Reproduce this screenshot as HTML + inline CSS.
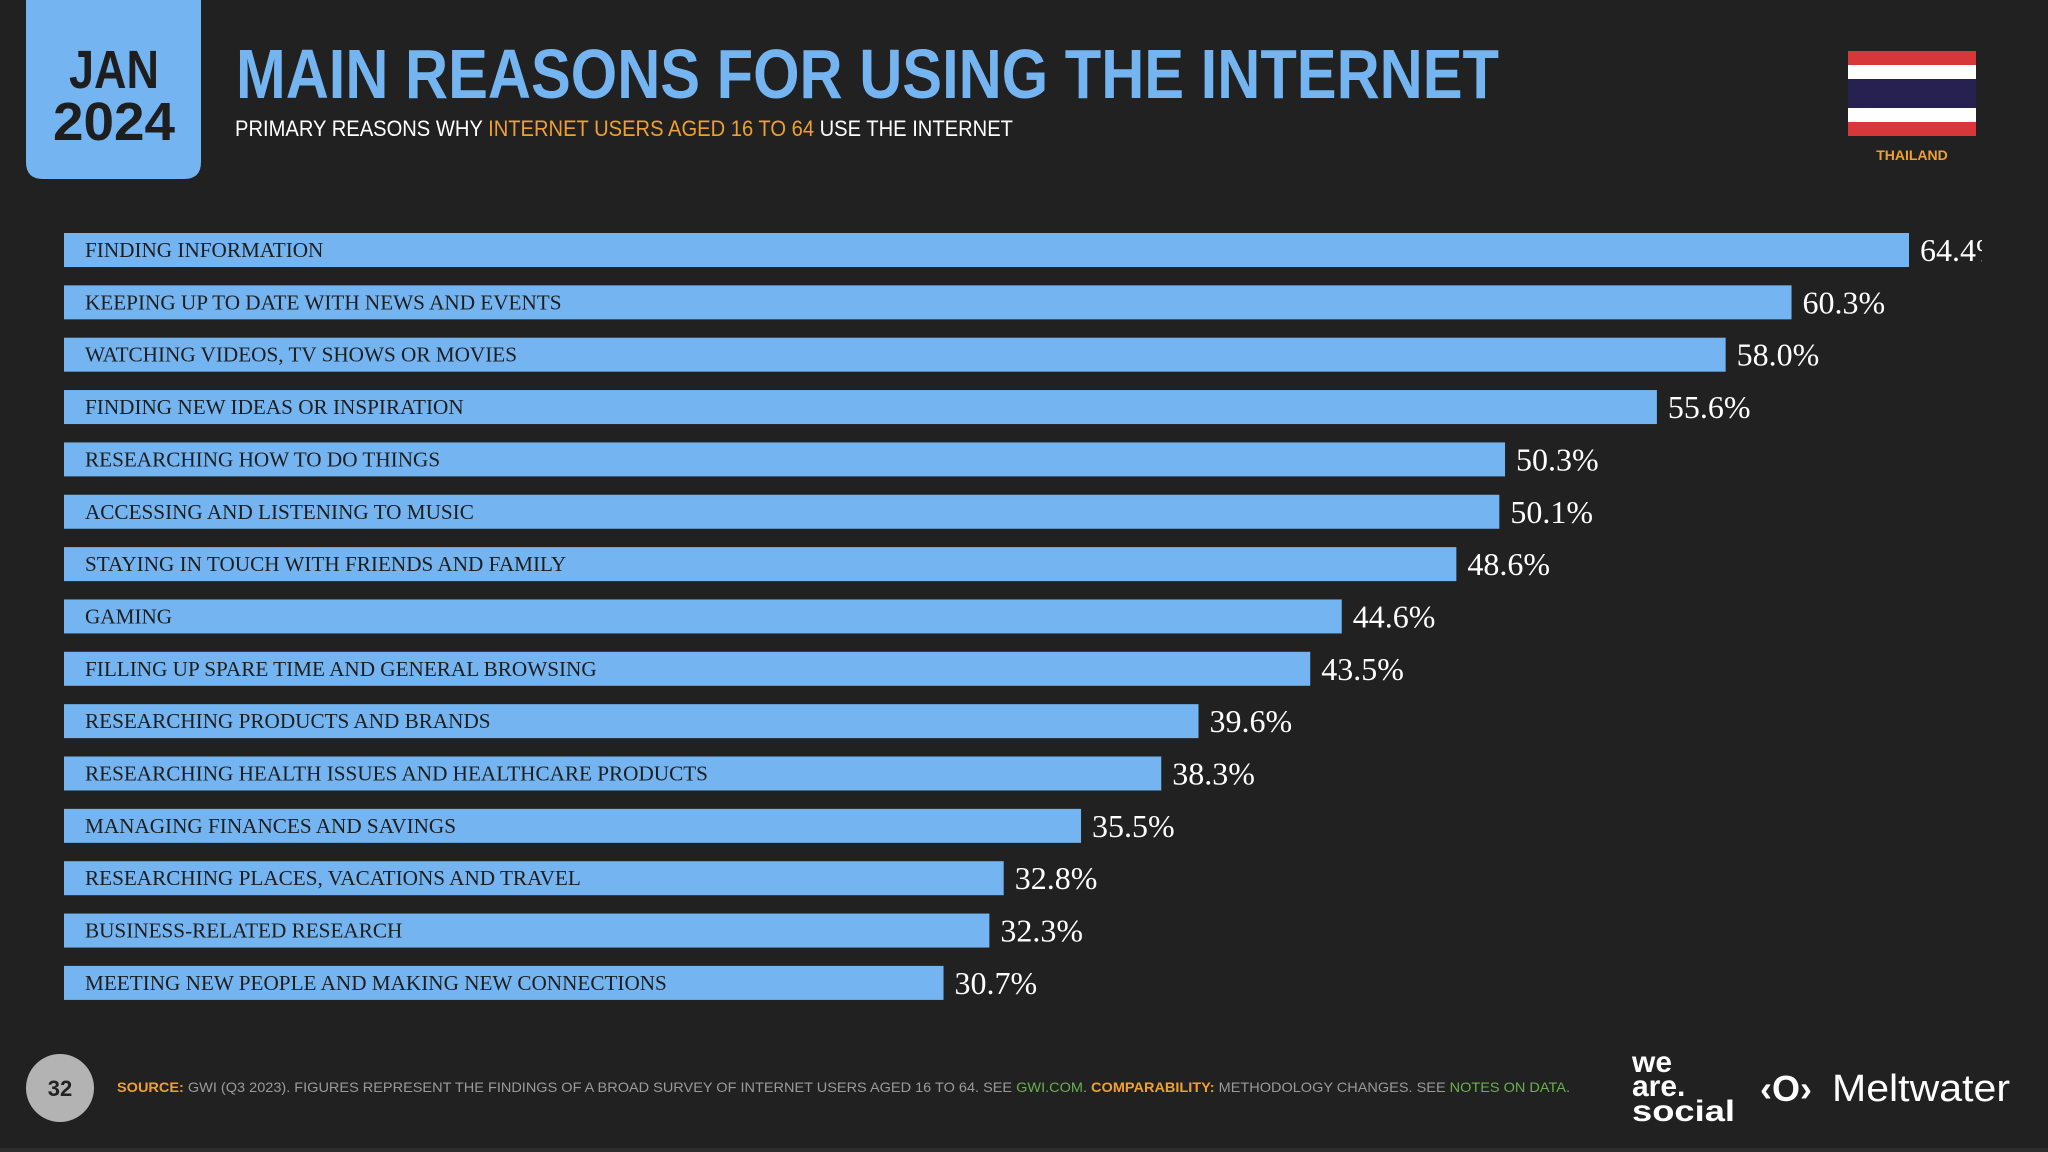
<!DOCTYPE html>
<html><head><meta charset="utf-8"><style>
html,body{margin:0;padding:0;background:#212121;}
svg{display:block}
</style></head><body>
<svg id="chart" width="2048" height="1152" viewBox="0 0 2048 1152" xmlns="http://www.w3.org/2000/svg">
<rect x="0" y="0" width="2048" height="1152" fill="#212121"/>
<rect x="0" y="1148" width="2048" height="4" fill="#2c2c2c"/>
<g>
<path d="M26 0 H201 V162 Q201 179 184 179 H43 Q26 179 26 162 Z" fill="#74b4f0"/>
<text x="114" y="88" text-anchor="middle" font-family="Liberation Sans, sans-serif" font-weight="bold" font-size="54" fill="#1e1e1e" textLength="90" lengthAdjust="spacingAndGlyphs">JAN</text>
<text x="114" y="140" text-anchor="middle" font-family="Liberation Sans, sans-serif" font-weight="bold" font-size="54" fill="#1e1e1e" textLength="122" lengthAdjust="spacingAndGlyphs">2024</text>
</g>
<text x="236" y="98" font-family="Liberation Sans, sans-serif" font-weight="bold" font-size="70" fill="#74b4f0" textLength="1263" lengthAdjust="spacingAndGlyphs">MAIN REASONS FOR USING THE INTERNET</text>
<text x="235" y="136" font-family="Liberation Sans, sans-serif" font-size="22" fill="#ffffff" textLength="778" lengthAdjust="spacingAndGlyphs">PRIMARY REASONS WHY <tspan fill="#f0a030">INTERNET USERS AGED 16 TO 64</tspan> USE THE INTERNET</text>
<g>
<rect x="1848" y="51" width="128" height="85" fill="#d8373a"/>
<rect x="1848" y="65" width="128" height="57" fill="#ffffff"/>
<rect x="1848" y="79" width="128" height="29" fill="#262150"/>
</g>
<text x="1912" y="160" text-anchor="middle" font-family="Liberation Sans, sans-serif" font-weight="bold" font-size="14" fill="#f0a030">THAILAND</text>
<defs><clipPath id="clip"><rect x="0" y="0" width="1982" height="1152"/></clipPath></defs>
<g id="bars" clip-path="url(#clip)"></g>
<g>
<circle cx="60" cy="1088" r="34" fill="#b3b3b3"/>
<text x="60" y="1096" text-anchor="middle" font-family="Liberation Sans, sans-serif" font-weight="bold" font-size="22" fill="#222">32</text>
<text x="117" y="1092" font-family="Liberation Sans, sans-serif" font-size="14" fill="#9a9a9a" textLength="1453" lengthAdjust="spacingAndGlyphs"><tspan fill="#f0a030" font-weight="bold">SOURCE:</tspan> GWI (Q3 2023). FIGURES REPRESENT THE FINDINGS OF A BROAD SURVEY OF INTERNET USERS AGED 16 TO 64. SEE <tspan fill="#6ab04c">GWI.COM</tspan>. <tspan fill="#f0a030" font-weight="bold">COMPARABILITY:</tspan> METHODOLOGY CHANGES. SEE <tspan fill="#6ab04c">NOTES ON DATA</tspan>.</text>
<g font-family="Liberation Sans, sans-serif" font-weight="bold" font-size="30" fill="#ffffff">
<text x="1632" y="1072">we</text><text x="1632" y="1096">are.</text><text x="1632" y="1121" textLength="103" lengthAdjust="spacingAndGlyphs">social</text>
</g>
<g>
<text x="1760" y="1101" font-family="Liberation Sans, sans-serif" font-weight="bold" font-size="36" fill="#ffffff">‹O›</text>
<text x="1832" y="1101" font-family="Liberation Sans, sans-serif" font-size="38" fill="#ffffff" textLength="178" lengthAdjust="spacingAndGlyphs">Meltwater</text>
</g>
</g>
</svg>
<script>
const categories=["FINDING INFORMATION","KEEPING UP TO DATE WITH NEWS AND EVENTS","WATCHING VIDEOS, TV SHOWS OR MOVIES","FINDING NEW IDEAS OR INSPIRATION","RESEARCHING HOW TO DO THINGS","ACCESSING AND LISTENING TO MUSIC","STAYING IN TOUCH WITH FRIENDS AND FAMILY","GAMING","FILLING UP SPARE TIME AND GENERAL BROWSING","RESEARCHING PRODUCTS AND BRANDS","RESEARCHING HEALTH ISSUES AND HEALTHCARE PRODUCTS","MANAGING FINANCES AND SAVINGS","RESEARCHING PLACES, VACATIONS AND TRAVEL","BUSINESS-RELATED RESEARCH","MEETING NEW PEOPLE AND MAKING NEW CONNECTIONS"];
const values=[64.4,60.3,58.0,55.6,50.3,50.1,48.6,44.6,43.5,39.6,38.3,35.5,32.8,32.3,30.7];
const valueLabels=["64.4%","60.3%","58.0%","55.6%","50.3%","50.1%","48.6%","44.6%","43.5%","39.6%","38.3%","35.5%","32.8%","32.3%","30.7%"];
const NS="http://www.w3.org/2000/svg";
const x0=64, pxPer=(1909-64)/64.4;
function xScale(v){return x0+v*pxPer;}
function yScale(i){return 233+i*52.35;}
const g=document.getElementById('bars');
categories.forEach((c,i)=>{
 const y=yScale(i), w=xScale(values[i])-x0;
 const r=document.createElementNS(NS,'rect');
 r.setAttribute('x',x0);r.setAttribute('y',y);r.setAttribute('width',w);r.setAttribute('height',34);r.setAttribute('fill','#74b4f0');
 
 
 g.appendChild(r);
 const t=document.createElementNS(NS,'text');
 t.setAttribute('x',85);t.setAttribute('y',y+24);t.setAttribute('font-family','Liberation Serif, serif');t.setAttribute('font-size','21.2');t.setAttribute('fill','#1e1e1e');
 t.textContent=c;
 
 
 g.appendChild(t);
 const v=document.createElementNS(NS,'text');
 v.setAttribute('x',xScale(values[i])+11);v.setAttribute('y',y+28);v.setAttribute('font-family','Liberation Serif, serif');v.setAttribute('font-size','32');v.setAttribute('fill','#ffffff');
 v.textContent=valueLabels[i];
 
 
 g.appendChild(v);
});
</script>
</body></html>
